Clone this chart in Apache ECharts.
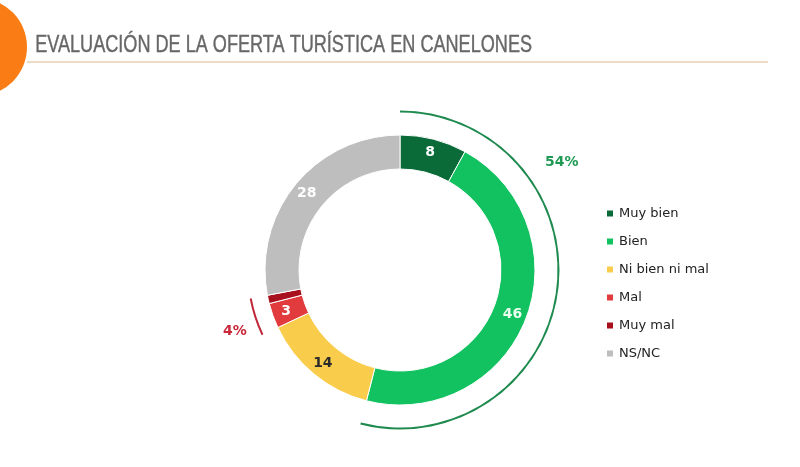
<!DOCTYPE html>
<html>
  <head>
    <meta charset="utf-8" />
    <title>Evaluación de la oferta turística</title>
    <script src="https://cdn.jsdelivr.net/npm/echarts@6/dist/echarts.min.js"></script>
  </head>
  <body style="margin:0;background:#fff">
    <div id="main" style="width:800px;height:467px;"></div>
    <script type="text/javascript">
      // datos
      var categorias = ["Muy bien", "Bien", "Ni bien ni mal", "Mal", "Muy mal", "NS/NC"];
      var valores = [8, 46, 14, 3, 1, 28];
      var colores = ["#0b6b38", "#12c160", "#f9cd4b", "#e23b3d", "#a8101d", "#bebebe"];
      var colorEtiqueta = ["#fff", "#e8fff0", "#2a2a2a", "#fff", "#fff", "#fff"];

      var positivos = valores[0] + valores[1]; // 54
      var negativos = valores[3] + valores[4]; // 4
      var regulares = valores[2];
      var nsnc = valores[5];

      var myChart = echarts.init(document.getElementById("main"));

      var datos = categorias.map(function (c, i) {
        return {
          name: c,
          value: valores[i],
          itemStyle: { color: colores[i] },
          label: {
            show: c !== "Muy mal",
            color: colorEtiqueta[i]
          }
        };
      });

      var vacio = { color: "transparent" };

      var option = {
        backgroundColor: "#fff",
        animation: false,
        legend: {
          orient: "vertical",
          left: 600,
          top: 202,
          itemWidth: 8,
          itemHeight: 8,
          itemGap: 15,
          icon: "rect",
          textStyle: { fontFamily: "DejaVu Sans", fontSize: 13, color: "#222" },
          data: categorias
        },
        graphic: [
          {
            type: "circle",
            shape: { cx: -22, cy: 47, r: 49 },
            style: { fill: "#f97d14" }
          },
          {
            type: "line",
            shape: { x1: 27, y1: 62, x2: 768, y2: 62 },
            style: { stroke: "#e9cfac", lineWidth: 1.5 }
          },
          {
            type: "text",
            left: 35,
            top: 34,
            scaleX: 0.787,
            style: {
              text: "EVALUACIÓN DE LA OFERTA TURÍSTICA EN CANELONES",
              fontFamily: "Liberation Sans",
              fontSize: 23,
              fill: "#676767",
              stroke: "#676767",
              lineWidth: 0.4
            }
          },
          {
            type: "text",
            left: 545,
            top: 155,
            style: {
              text: positivos + "%",
              fontFamily: "DejaVu Sans",
              fontWeight: "bold",
              fontSize: 14,
              fill: "#1f9a55"
            }
          },
          {
            type: "text",
            left: 223,
            top: 324,
            style: {
              text: negativos + "%",
              fontFamily: "DejaVu Sans",
              fontWeight: "bold",
              fontSize: 14,
              fill: "#c8283a"
            }
          }
        ],
        series: [
          {
            name: "Evaluación",
            type: "pie",
            center: [400, 270],
            radius: [101, 135],
            startAngle: 90,
            clockwise: true,
            silent: true,
            itemStyle: { borderColor: "#fff", borderWidth: 1 },
            label: {
              position: "inside",
              formatter: "{c}",
              fontFamily: "DejaVu Sans",
              fontWeight: "bold",
              fontSize: 14
            },
            labelLine: { show: false },
            data: datos
          },
          {
            name: "Arco positivos",
            type: "pie",
            center: [400, 270],
            radius: [157.5, 159.5],
            startAngle: 90,
            silent: true,
            label: { show: false },
            labelLine: { show: false },
            data: [
              { value: positivos, name: "pos", itemStyle: { color: "#1e8a4e" } },
              { value: regulares + negativos + nsnc, name: "resto", itemStyle: vacio }
            ]
          },
          {
            name: "Arco negativos",
            type: "pie",
            center: [400, 270],
            radius: [151, 153],
            startAngle: 90,
            silent: true,
            label: { show: false },
            labelLine: { show: false },
            data: [
              { value: positivos + regulares, name: "a", itemStyle: vacio },
              { value: negativos, name: "neg", itemStyle: { color: "#c0283a" } },
              { value: nsnc, name: "b", itemStyle: vacio }
            ]
          }
        ]
      };

      myChart.setOption(option);
    </script>
  </body>
</html>
